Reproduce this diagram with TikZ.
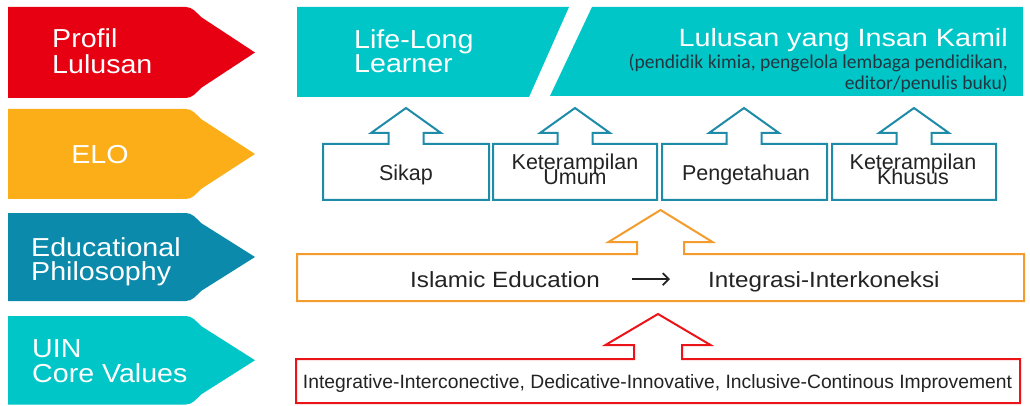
\documentclass[tikz,border=0pt]{standalone}
\usepackage{fontspec}
\setmainfont{Liberation Sans}
\newfontfamily\widesans[FakeStretch=1.1]{Liberation Sans}
\newfontfamily\widersans[FakeStretch=1.15]{Liberation Sans}
\newfontfamily\calib{Carlito}
\usetikzlibrary{arrows.meta}
\definecolor{cRed}{RGB}{230,0,18}
\definecolor{cOrange}{RGB}{251,174,23}
\definecolor{cBlue}{RGB}{11,138,171}
\definecolor{cCyan}{RGB}{0,198,200}
\definecolor{cTeal}{RGB}{30,140,168}
\definecolor{cOrLine}{RGB}{243,156,43}
\definecolor{cRedLine}{RGB}{235,20,25}
\definecolor{cText}{RGB}{35,35,35}
\definecolor{cSub}{RGB}{35,55,65}
\newcommand\chevronshape[3]{%
  \fill[#1] (8,#2) -- (186,#2) .. controls (192,#2) and (196,#2+5) .. (201,#2+10)
    -- (255,{(#2+#3)/2}) -- (201,#3-10) .. controls (196,#3-5) and (192,#3) .. (186,#3)
    -- (8,#3) -- cycle;}
% left, right, top, bottom, centre x, shaft half, head half, head base y, tip y
\newcommand\upcallout[9]{%
  \draw (#5-#6,#3) -- (#1,#3) -- (#1,#4) -- (#2,#4) -- (#2,#3) -- (#5+#6,#3)
    -- (#5+#6,#8) -- (#5+#7,#8) -- (#5,#9) -- (#5-#7,#8) -- (#5-#6,#8) -- cycle;}
\tikzset{
  lbl/.style={inner sep=0pt, text=white, font=\widesans\fontsize{26}{26}\selectfont},
  ttl/.style={inner sep=0pt, text=white, font=\widesans\fontsize{26}{26}\selectfont},
  boxtxt/.style={inner sep=0pt, text=cText, font=\fontsize{21.5}{21.5}\selectfont},
  subtxt/.style={inner sep=0pt, text=cSub, font=\calib\fontsize{19.6}{19.6}\selectfont},
  tealline/.style={draw=cTeal, line width=2pt, line join=miter},
  orline/.style={draw=cOrLine, line width=2pt, line join=miter},
  redline/.style={draw=cRedLine, line width=2pt, line join=miter},
}
\begin{document}
\begin{tikzpicture}[x=1pt,y=-1pt]
\useasboundingbox[fill=white] (0,0) rectangle (1030,406);
% left chevrons
\chevronshape{cRed}{7}{98}
\chevronshape{cOrange}{109}{199}
\chevronshape{cBlue}{213}{301}
\chevronshape{cCyan}{316}{404.5}
\node[lbl, anchor=base west] (pl1) at (52,48) {Profil};
\node[lbl, anchor=base west] (pl2) at (52,74) {Lulusan};
\node[lbl, anchor=base] (elo) at (100,164) {ELO};
\node[lbl, anchor=base west] (ep1) at (31,256) {Educational};
\node[lbl, anchor=base west] (ep2) at (31,280) {Philosophy};
\node[lbl, anchor=base west] (cv1) at (32,357) {UIN};
\node[lbl, anchor=base west] (cv2) at (32,382) {Core Values};
% top banners
\fill[cCyan] (297,7) -- (569,7) -- (529,97) -- (297,97) -- cycle;
\fill[cCyan] (592,7) -- (1023,7) -- (1023,96) -- (550,96) -- cycle;
\node[ttl, anchor=base west] (ll1) at (354,49) {Life-Long};
\node[ttl, anchor=base west] (ll2) at (354,73) {Learner};
\node[ttl, anchor=base east, font=\widersans\fontsize{25}{25}\selectfont] (ik) at (1008,47) {Lulusan yang Insan Kamil};
\node[subtxt, anchor=base east] (sub1) at (1008,69) {(pendidik kimia, pengelola lembaga pendidikan,};
\node[subtxt, anchor=base east] (sub2) at (1008,90) {editor/penulis buku)};
% ELO callouts
\begin{scope}[tealline]
\upcallout{323}{489}{144}{200}{406}{17.5}{35}{133}{108}
\upcallout{493}{657}{144}{200}{575}{17.5}{35}{133}{108}
\upcallout{662}{827}{144}{200}{744}{17.5}{35}{133}{108}
\upcallout{832}{996}{144}{200}{914}{17.5}{35}{133}{108}
\end{scope}
\node[boxtxt, anchor=base] (sikap) at (406,181) {Sikap};
\node[boxtxt, anchor=base] (ku1) at (575,169.5) {Keterampilan};
\node[boxtxt, anchor=base] (ku2) at (575,185) {Umum};
\node[boxtxt, anchor=base] (peng) at (746,181) {Pengetahuan};
\node[boxtxt, anchor=base] (kk1) at (913,169.5) {Keterampilan};
\node[boxtxt, anchor=base] (kk2) at (913,185) {Khusus};
% educational philosophy callout
\begin{scope}[orline]
\upcallout{297}{1024}{254}{301}{660.5}{23.5}{52}{242}{210}
\end{scope}
\node[boxtxt, anchor=base west, font=\widesans\fontsize{22}{22}\selectfont] (ie) at (410,287) {Islamic Education};
\node[boxtxt, anchor=base west, font=\widesans\fontsize{22}{22}\selectfont] (ii) at (708,287) {Integrasi-Interkoneksi};
\draw[cText, line width=1.8pt, -{Straight Barb[length=6pt,width=12pt]}, shorten <=32pt, shorten >=38pt] (ie.east) -- (ii.west |- ie.east);
% core values callout
\begin{scope}[redline]
\upcallout{296}{1020}{359}{403}{658}{24}{52.5}{345}{314}
\end{scope}
\node[boxtxt, anchor=base, font=\fontsize{19.3}{19.3}\selectfont] (cv) at (657.5,388) {Integrative-Interconective, Dedicative-Innovative, Inclusive-Continous Improvement};
\end{tikzpicture}
\end{document}
